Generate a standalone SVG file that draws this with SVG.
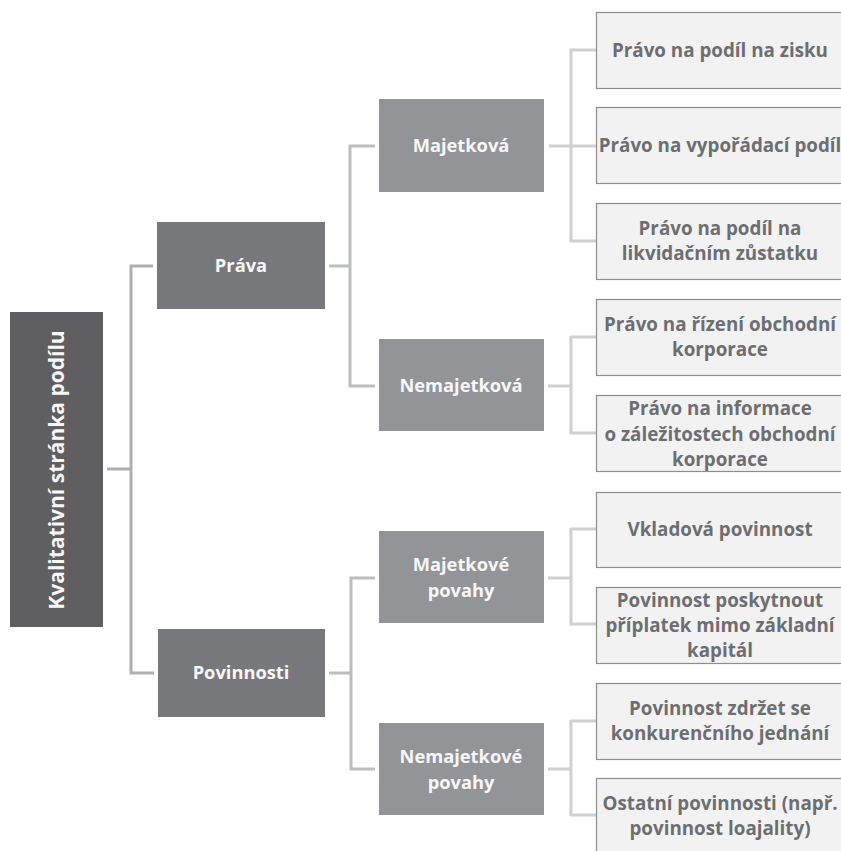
<svg xmlns="http://www.w3.org/2000/svg" width="841" height="851" viewBox="0 0 841 851">
<style>
text{font-family:"Open Sans","Noto Sans","DejaVu Sans",sans-serif;font-weight:700;text-anchor:middle}
.root{fill:#5f5f61}
.l1{fill:#77787b}
.l2{fill:#939497}
.leaf{fill:#f2f2f3;stroke:#8e8e90;stroke-width:1.2}
.wt{fill:#f7f7f7;font-size:18.3px}
.lt{fill:#6d6e71;font-size:18.8px}
.c1{stroke:#aeafb2;stroke-width:3;fill:none}
.c2{stroke:#bcbdc0;stroke-width:3;fill:none}
.c3{stroke:#cfd0d2;stroke-width:3;fill:none}
</style>
<rect width="841" height="851" fill="#ffffff"/>
<g id="connectors">
<path class="c1" d="M107,469H131M153,266H131V673H154"/>
<path class="c2" d="M329,266H350M375,146H350V386H375"/>
<path class="c2" d="M329,673H351M375,578H351V769H375"/>
<path class="c3" d="M549,146H596M596,50H571V241H596"/>
<path class="c3" d="M548,386H571M596,337H571V433H596"/>
<path class="c3" d="M548,578H571M596,529H571V624H596"/>
<path class="c3" d="M548,769H571M596,721H571V815H596"/>
</g>
<g id="root">
<rect class="root" x="10" y="312" width="93" height="315"/>
<text class="wt" style="font-size:21px" transform="translate(64,470) rotate(-90)">Kvalitativní stránka podílu</text>
</g>
<g id="prava">
<rect class="l1" x="157" y="222" width="168" height="87"/>
<text class="wt" x="241" y="272">Práva</text>
</g>
<g id="povinnosti">
<rect class="l1" x="158" y="629" width="167" height="88"/>
<text class="wt" x="241" y="679">Povinnosti</text>
</g>
<g id="majetkova">
<rect class="l2" x="379" y="99" width="165" height="93"/>
<text class="wt" x="461" y="152">Majetková</text>
</g>
<g id="nemajetkova">
<rect class="l2" x="379" y="339" width="165" height="92"/>
<text class="wt" x="461" y="392">Nemajetková</text>
</g>
<g id="majetkove-povahy">
<rect class="l2" x="379" y="531" width="165" height="92"/>
<text class="wt" x="461" y="571">Majetkové</text>
<text class="wt" x="461" y="597">povahy</text>
</g>
<g id="nemajetkove-povahy">
<rect class="l2" x="379" y="723" width="165" height="92"/>
<text class="wt" x="461" y="763">Nemajetkové</text>
<text class="wt" x="461" y="789">povahy</text>
</g>
<g id="leaf1">
<rect class="leaf" x="596.5" y="12.5" width="246" height="76"/>
<text class="lt" x="720" y="56.5">Právo na podíl na zisku</text>
</g>
<g id="leaf2">
<rect class="leaf" x="596.5" y="107.5" width="246" height="76"/>
<text class="lt" x="720" y="151.5">Právo na vypořádací podíl</text>
</g>
<g id="leaf3">
<rect class="leaf" x="596.5" y="203.5" width="246" height="76"/>
<text class="lt" x="720" y="235">Právo na podíl na</text>
<text class="lt" x="720" y="260">likvidačním zůstatku</text>
</g>
<g id="leaf4">
<rect class="leaf" x="596.5" y="299.5" width="246" height="76"/>
<text class="lt" x="720" y="331">Právo na řízení obchodní</text>
<text class="lt" x="720" y="356">korporace</text>
</g>
<g id="leaf5">
<rect class="leaf" x="596.5" y="395.5" width="246" height="76"/>
<text class="lt" x="720" y="415">Právo na informace</text>
<text class="lt" x="720" y="441">o záležitostech obchodní</text>
<text class="lt" x="720" y="466">korporace</text>
</g>
<g id="leaf6">
<rect class="leaf" x="596.5" y="492.5" width="246" height="75"/>
<text class="lt" x="720" y="536">Vkladová povinnost</text>
</g>
<g id="leaf7">
<rect class="leaf" x="596.5" y="587.5" width="246" height="76"/>
<text class="lt" x="720" y="607">Povinnost poskytnout</text>
<text class="lt" x="720" y="632">příplatek mimo základní</text>
<text class="lt" x="720" y="657">kapitál</text>
</g>
<g id="leaf8">
<rect class="leaf" x="596.5" y="683.5" width="246" height="76"/>
<text class="lt" x="720" y="715">Povinnost zdržet se</text>
<text class="lt" x="720" y="740">konkurenčního jednání</text>
</g>
<g id="leaf9">
<rect class="leaf" x="596.5" y="778.5" width="246" height="80"/>
<text class="lt" x="720" y="810">Ostatní povinnosti (např.</text>
<text class="lt" x="720" y="835">povinnost loajality)</text>
</g>
</svg>
